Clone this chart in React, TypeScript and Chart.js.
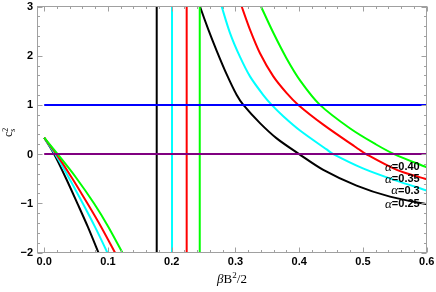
import React, { useEffect, useRef } from "react";
import { Chart, registerables } from "chart.js";

Chart.register(...registerables);

// ---- tick labels ----
const xTickValues = [0, 0.1, 0.2, 0.3, 0.4, 0.5, 0.6];
const xTickLabels = ["0.0", "0.1", "0.2", "0.3", "0.4", "0.5", "0.6"];
const yTickValues = [-2, -1, 0, 1, 2, 3];
const yTickLabels = ["−2", "−1", "0", "1", "2", "3"];

// ---- series names (α values) ----
const alphaSymbol = "α";
const alphaValues = ["=0.25", "=0.3", "=0.35", "=0.40"];

// ---- left branches ----
const leftX025 = [0, 0.0155, 0.03375, 0.052, 0.0685, 0.085, 0.095];
const leftY025 = [0.333, 0, -0.48, -1, -1.48, -2, -2.32];
const leftX030 = [0, 0.017, 0.0387, 0.0604, 0.0797, 0.099, 0.109];
const leftY030 = [0.333, 0, -0.48, -1, -1.48, -2, -2.28];
const leftX035 = [0, 0.019, 0.04335, 0.0677, 0.08935, 0.111, 0.122];
const leftY035 = [0.333, 0, -0.48, -1, -1.48, -2, -2.27];
const leftX040 = [0, 0.021, 0.0495, 0.078, 0.10025, 0.1225, 0.134];
const leftY040 = [0.333, 0, -0.47, -1, -1.47, -2, -2.28];

// ---- vertical asymptotes ----
const asymptoteX = [0.1765, 0.2005, 0.2235, 0.244];
const asymptoteY = [-2.5, 3.5];

// ---- right branches ----
const rightX025 = [0.2374, 0.2444, 0.2575, 0.2706, 0.2863, 0.302, 0.3124, 0.3385, 0.3647, 0.4, 0.4378, 0.49, 0.5424, 0.6];
const rightY025 = [3.28, 3.0, 2.53, 2.1, 1.62, 1.2, 1.0, 0.63, 0.32, 0, -0.32, -0.64, -0.865, -1.02];
const rightX030 = [0.272, 0.2784, 0.2915, 0.307, 0.3228, 0.3437, 0.3569, 0.375, 0.4013, 0.443, 0.4535, 0.5, 0.55, 0.6];
const rightY030 = [3.28, 3.0, 2.46, 1.98, 1.58, 1.2, 1.0, 0.77, 0.48, 0.095, 0, -0.29, -0.53, -0.74];
const rightX035 = [0.3034, 0.3098, 0.3228, 0.3385, 0.3594, 0.3804, 0.3986, 0.4378, 0.49, 0.505, 0.553, 0.6];
const rightY035 = [3.25, 3.0, 2.53, 2.05, 1.58, 1.24, 1.0, 0.6, 0.13, 0, -0.32, -0.51];
const rightX040 = [0.335, 0.3401, 0.36, 0.38, 0.4013, 0.4326, 0.48, 0.52, 0.549, 0.6];
const rightY040 = [3.15, 3.0, 2.45, 1.95, 1.5, 1.0, 0.52, 0.2, 0, -0.27];

// ---- horizontal reference levels ----
const refLevels = [1, 0];
const refRangeX = [0, 0.6];

const curveColors = ["#000000", "#00ffff", "#ff0000", "#00ff00"];
const refColors = ["#0000ff", "#800080"];

const leftXs = [leftX025, leftX030, leftX035, leftX040];
const leftYs = [leftY025, leftY030, leftY035, leftY040];
const rightXs = [rightX025, rightX030, rightX035, rightX040];
const rightYs = [rightY025, rightY030, rightY035, rightY040];

const pts = (xs: number[], ys: number[]) => xs.map((x, i) => ({ x, y: ys[i] }));

const framePlugin = {
  id: "mmaFrame",
  afterDraw(chart: any) {
    const { ctx, chartArea: a } = chart;
    const xs = chart.scales.x;
    const ys = chart.scales.y;
    const L = Math.floor(a.left) + 0.5;
    const R = Math.ceil(a.right) - 0.5;
    const T = Math.floor(a.top) + 0.5;
    const B = Math.floor(a.bottom) + 0.5;
    ctx.save();
    ctx.strokeStyle = "#a0a0a0";
    ctx.lineWidth = 1;
    ctx.strokeRect(L, T, R - L, B - T);
    ctx.beginPath();
    const majLen = 5;
    const minLen = 2.5;
    for (let k = 0; k <= 30; k++) {
      const v = k * 0.02;
      const len = k % 5 === 0 ? majLen : minLen;
      const px = Math.round(xs.getPixelForValue(v)) + 0.5;
      ctx.moveTo(px, B);
      ctx.lineTo(px, B - len);
      ctx.moveTo(px, T);
      ctx.lineTo(px, T + len);
    }
    for (let k = 0; k <= 25; k++) {
      const v = -2 + k * 0.2;
      const len = k % 5 === 0 ? majLen : minLen;
      const py = Math.round(ys.getPixelForValue(v)) + 0.5;
      ctx.moveTo(L, py);
      ctx.lineTo(L + len, py);
      ctx.moveTo(R, py);
      ctx.lineTo(R - len, py);
    }
    ctx.stroke();

    ctx.fillStyle = "#000";
    ctx.font = 'bold 11px "Liberation Sans"';
    ctx.textAlign = "center";
    ctx.textBaseline = "middle";
    xTickValues.forEach((v, i) => {
      ctx.fillText(xTickLabels[i], xs.getPixelForValue(v), 262);
    });
    ctx.textAlign = "right";
    yTickValues.forEach((v, i) => {
      ctx.fillText(yTickLabels[i], 33, ys.getPixelForValue(v) + 0.5);
    });

    {
      const big = '13px "Liberation Serif"';
      const bigIt = 'italic 13px "Liberation Serif"';
      const small = '9px "Liberation Serif"';
      const parts = [
        { t: "β", f: bigIt, dy: 0 },
        { t: "B", f: big, dy: 0 },
        { t: "2", f: small, dy: -5 },
        { t: "/2", f: big, dy: 0 },
      ];
      let w = 0;
      parts.forEach((p) => {
        ctx.font = p.f;
        w += ctx.measureText(p.t).width;
      });
      let cx = (a.left + a.right) / 2 - w / 2;
      ctx.textAlign = "left";
      ctx.textBaseline = "alphabetic";
      parts.forEach((p) => {
        ctx.font = p.f;
        ctx.fillText(p.t, cx, 282.5 + p.dy);
        cx += ctx.measureText(p.t).width;
      });
    }

    {
      ctx.save();
      ctx.translate(12, (a.top + a.bottom) / 2);
      ctx.rotate(-Math.PI / 2);
      ctx.textAlign = "left";
      ctx.textBaseline = "alphabetic";
      ctx.font = '12px "Liberation Serif"';
      const cw = ctx.measureText("c").width;
      const x0 = -7.5;
      ctx.fillText("c", x0, 0);
      ctx.font = '8px "Liberation Serif"';
      ctx.fillText("s", x0 + cw, 2.5);
      ctx.fillText("2", x0 + cw, -4.5);
      ctx.restore();
    }

    const rightEdge = xs.getPixelForValue(0.6) - 7;
    for (let i = 0; i < 4; i++) {
      const ry = rightYs[i];
      const py = ys.getPixelForValue(ry[ry.length - 1]);
      ctx.textBaseline = "middle";
      ctx.textAlign = "left";
      ctx.font = 'bold 11px "Liberation Sans"';
      const w2 = ctx.measureText(alphaValues[i]).width;
      ctx.font = 'italic 13px "Liberation Serif"';
      const w1 = ctx.measureText(alphaSymbol).width;
      const start = rightEdge - w1 - w2;
      ctx.fillText(alphaSymbol, start, py + 0.5);
      ctx.font = 'bold 11px "Liberation Sans"';
      ctx.fillText(alphaValues[i], start + w1, py);
    }
    ctx.restore();
  },
};

export default function App() {
  const ref = useRef<HTMLCanvasElement | null>(null);
  useEffect(() => {
    document.body.style.margin = "0";
    if (!ref.current) return;
    const datasets: any[] = [];
    refLevels.forEach((lv, i) => {
      datasets.push({
        data: pts(refRangeX, [lv, lv]),
        borderColor: refColors[i],
        borderWidth: 2,
        pointRadius: 0,
        showLine: true,
        tension: 0,
      });
    });
    for (let i = 3; i >= 0; i--) {
      datasets.push({
        data: pts(leftXs[i], leftYs[i]),
        borderColor: curveColors[i],
        borderWidth: 2,
        pointRadius: 0,
        showLine: true,
        tension: 0.3,
        clip: 0,
      });
      datasets.push({
        data: pts([asymptoteX[i], asymptoteX[i]], asymptoteY),
        borderColor: curveColors[i],
        borderWidth: 2,
        pointRadius: 0,
        showLine: true,
        tension: 0,
        clip: 0,
      });
      datasets.push({
        data: pts(rightXs[i], rightYs[i]),
        borderColor: curveColors[i],
        borderWidth: 2,
        pointRadius: 0,
        showLine: true,
        tension: 0.3,
        clip: 0,
      });
    }
    const chart = new Chart(ref.current, {
      type: "scatter",
      data: { datasets },
      options: {
        animation: false,
        responsive: false,
        maintainAspectRatio: false,
        events: [],
        layout: { padding: { left: 37, right: 9, top: 6.5, bottom: 39.5 } },
        scales: {
          x: { type: "linear", min: -0.0113, max: 0.6005, display: false },
          y: { type: "linear", min: -2, max: 3, display: false },
        },
        plugins: { legend: { display: false }, tooltip: { enabled: false } },
      },
      plugins: [framePlugin],
    } as any);
    return () => chart.destroy();
  }, []);
  return (
    <div style={{ width: 436, height: 292 }}>
      <canvas ref={ref} width={436} height={292} style={{ display: "block" }} />
    </div>
  );
}
